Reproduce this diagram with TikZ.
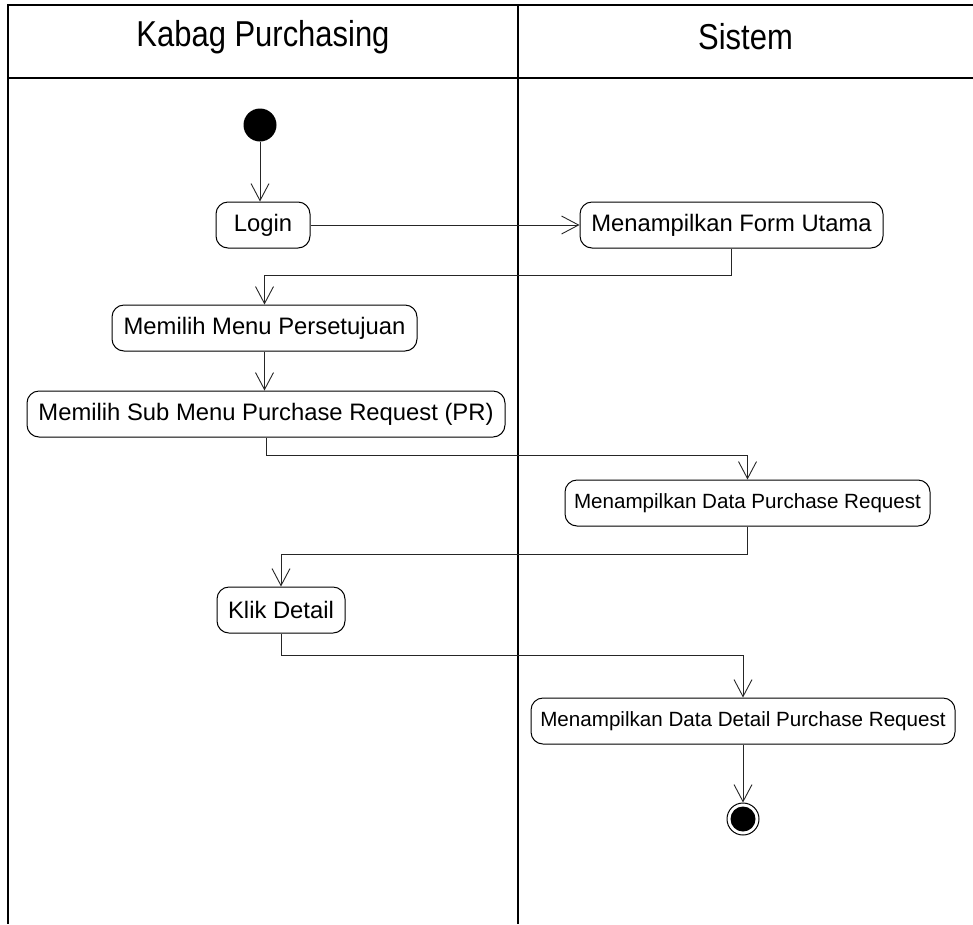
\documentclass[tikz,border=0pt]{standalone}
\usepackage{fontspec}
\setmainfont{Liberation Sans}
\newfontfamily\headfont[FakeStretch=0.86]{Liberation Sans}
\usetikzlibrary{arrows.meta}
\begin{document}
\begin{tikzpicture}[x=1pt,y=-1pt,
  frame/.style={line width=2pt,black},
  lanehead/.style={font=\headfont\fontsize{36}{40}\selectfont,inner sep=0pt},
  act/.style={draw=black,line width=1pt,rounded corners=12pt,fill=white,
    minimum height=46pt,inner sep=0pt,font=\fontsize{23.8}{28}\selectfont},
  actsmall/.style={act,font=\fontsize{20.6}{24}\selectfont},
  flow/.style={draw=black!85,line width=0.9pt,
    -{Straight Barb[length=17pt,width=18pt,line width=0.9pt]}},
  initial/.style={circle,fill=black,minimum size=33pt,inner sep=0pt},
]
\useasboundingbox (0,0) rectangle (973,924);

% swimlane frame
\draw[frame] (8,5) -- (973,5);
\draw[frame] (8,78) -- (973,78);
\draw[frame] (8,4) -- (8,924);
\draw[frame] (518,4) -- (518,924);
\node[lanehead] (laneA) at (263,37) {Kabag Purchasing};
\node[lanehead] (laneB) at (745.5,37) {Sistem};

% activities
\node[initial] (start) at (260,125) {};
\node[act,minimum width=94pt] (login) at (263,225) {Login};
\node[act,minimum width=303pt] (form) at (731.5,225) {Menampilkan Form Utama};
\node[act,minimum width=305pt] (menu) at (264.5,328) {Memilih Menu Persetujuan};
\node[act,minimum width=478pt] (sub) at (266,414) {Memilih Sub Menu Purchase Request (PR)};
\node[actsmall,minimum width=365pt] (datapr) at (747.5,503) {Menampilkan Data Purchase Request};
\node[act,minimum width=128pt] (klik) at (281,610) {Klik Detail};
\node[actsmall,minimum width=424pt] (detail) at (743,721) {Menampilkan Data Detail Purchase Request};
\node[circle,draw=black,line width=1pt,fill=white,minimum size=32pt,inner sep=0pt] (end) at (743,819) {};
\node[circle,fill=black,minimum size=25pt,inner sep=0pt] (endcore) at (end) {};

% bend levels of the connectors
\coordinate (j1) at (0,275);
\coordinate (j2) at (0,455);
\coordinate (j3) at (0,554);
\coordinate (j4) at (0,655);

% control flow
\draw[flow] (start) -- (start |- login.north);
\draw[flow] (login.east) -- (form.west);
\draw[flow] (form.south) |- (j1 -| menu.north) -- (menu.north);
\draw[flow] (menu.south) -- (menu.south |- sub.north);
\draw[flow] (sub.south) |- (j2 -| datapr.north) -- (datapr.north);
\draw[flow] (datapr.south) |- (j3 -| klik.north) -- (klik.north);
\draw[flow] (klik.south) |- (j4 -| detail.north) -- (detail.north);
\draw[flow] (detail.south) -- (end.north);
\end{tikzpicture}
\end{document}
